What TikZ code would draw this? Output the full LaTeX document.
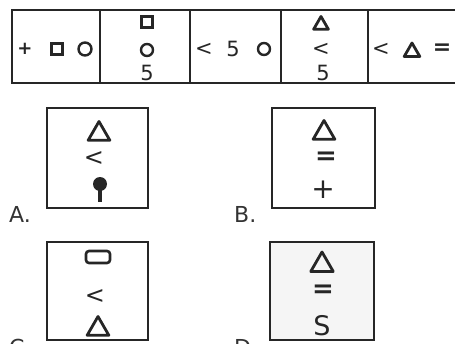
\documentclass[tikz,border=0pt]{standalone}
\usepackage{fontspec}
\setmainfont{DejaVu Sans}
\usetikzlibrary{shapes.geometric}
\colorlet{ink}{black!85}
\tikzset{
  frame/.style={draw=ink, line width=2.6pt},
  tri/.style={regular polygon, regular polygon sides=3, draw=ink, line width=2.8pt, line join=round, minimum size=#1, inner sep=0pt},
  tri/.default=17pt,
  sq/.style={rectangle, draw=ink, line width=2.6pt, minimum size=10.5pt, inner sep=0pt},
  circ/.style={circle, draw=ink, line width=2.4pt, minimum size=12pt, inner sep=0pt},
  glyph/.style={inner sep=0pt, text=ink, font=\fontsize{21}{21}\selectfont},
  lt/.style={inner sep=0pt, text=ink, font=\fontsize{21}{21}\selectfont},
  biglt/.style={inner sep=0pt, text=ink, font=\fontsize{24}{24}\selectfont},
  bold/.style={inner sep=0pt, text=ink, font=\fontsize{#1}{#1}\selectfont\bfseries},
  lbl/.style={inner sep=0pt, anchor=base west, text=black!80, font=\fontsize{22}{22}\selectfont},
}
\begin{document}
\begin{tikzpicture}[x=1pt,y=-1pt]
\useasboundingbox (0,0) rectangle (455,343);
% top strip
\draw[frame] (458,10) -- (12,10) -- (12,83) -- (458,83);
\foreach \x in {100,190,281,368} \draw[frame] (\x,10) -- (\x,83);
% cell 1
\node[bold=18] (c1a) at (25,49) {+};
\node[sq] (c1b) at (57,49) {};
\node[circ, minimum height=13pt] (c1c) at (85,49) {};
% cell 2
\node[sq] (c2a) at (147,22) {};
\node[circ] (c2b) at (147,50) {};
\node[glyph] (c2c) at (147,73) {5};
% cell 3
\node[lt] (c3a) at (204,49) {<};
\node[glyph] (c3b) at (233,49) {5};
\node[circ] (c3c) at (264,49) {};
% cell 4
\node[tri=17pt] (c4a) at (321,25) {};
\node[lt] (c4b) at (321,49) {<};
\node[glyph] (c4c) at (323,73) {5};
% cell 5
\node[lt] (c5a) at (381,49) {<};
\node[tri=18pt] (c5b) at (412,52) {};
\node[bold=22] (c5c) at (442,49) {=};
% option A
\draw[frame] (47,108) rectangle (148,208);
\node[tri=25pt] (aa) at (99,134) {};
\node[biglt] (ab) at (94,159) {<};
\fill[ink] (100,184) circle (7pt);
\draw[ink, line width=3.5pt] (100,186) -- (100,202);
\node[lbl] (la) at (9,222) {A.};
% option B
\draw[frame] (272,108) rectangle (375,208);
\node[tri=25pt] (ba) at (324,133) {};
\node[bold=26] (bb) at (326,158) {=};
\node[inner sep=0pt, text=ink, font=\fontsize{28}{28}\selectfont] (bc) at (323,190) {+};
\node[lbl] (lb) at (234,222) {B.};
% option C
\draw[frame] (47,242) rectangle (148,340);
\node[draw=ink, line width=2.6pt, rounded corners=3pt, minimum width=24pt, minimum height=12pt, inner sep=0pt] (ca) at (98,257) {};
\node[biglt] (cb) at (95,297) {<};
\node[tri=25pt] (cc) at (98,329) {};
\node[lbl] (lc) at (9,355) {C.};
% option D
\draw[frame, fill=black!4] (270,242) rectangle (374,340);
\node[tri=26pt] (da) at (322,265) {};
\node[bold=26] (db) at (323,291) {=};
\node[inner sep=0pt, text=ink, font=\fontsize{27}{27}\selectfont] (dc) at (322,326) {S};
\node[lbl] (ld) at (234,355) {D.};
\end{tikzpicture}
\end{document}
